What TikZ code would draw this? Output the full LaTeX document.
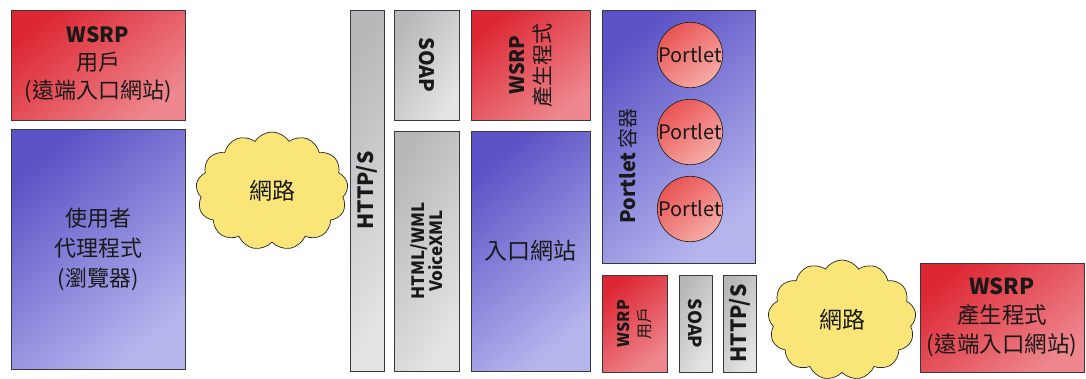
\documentclass[tikz,border=0pt]{standalone}
\usepackage{fontspec}
\setmainfont{Noto Sans CJK TC}
\usetikzlibrary{shapes.symbols}

\definecolor{rojo}{RGB}{221,40,52}
\definecolor{rojoclaro}{RGB}{238,135,142}
\definecolor{azul}{RGB}{92,84,198}
\definecolor{azulclaro}{RGB}{182,182,238}
\definecolor{gris}{RGB}{184,184,186}
\definecolor{grisclaro}{RGB}{228,228,230}
\definecolor{nube}{RGB}{250,229,120}
\definecolor{bolarojo}{RGB}{234,84,84}
\definecolor{bolaclaro}{RGB}{246,172,168}
\definecolor{borde}{RGB}{55,55,60}

\tikzset{
  caja/.style={draw=borde, line width=0.9pt, inner sep=0pt, text=black!90, align=center},
  roja/.style={caja, top color=rojo, bottom color=rojoclaro, shading angle=40},
  azulada/.style={caja, top color=azul, bottom color=azulclaro, shading angle=40},
  grisacea/.style={caja, top color=gris, bottom color=grisclaro, shading angle=60},
  nubes/.style={cloud, cloud puffs=13, cloud puff arc=115, cloud ignores aspect,
    draw=black!85, line width=0.7pt, fill=nube, inner sep=0pt, text=black!90},
  bola/.style={circle, draw=black!85, line width=0.7pt, minimum size=64pt, inner sep=0pt,
    top color=bolarojo, bottom color=bolaclaro, shading angle=40, text=black!90},
  tam/.style 2 args={minimum width=#1pt, minimum height=#2pt},
  texto/.style={align=center, text=black!90, inner sep=0pt},
}

\begin{document}
\begin{tikzpicture}[x=1pt,y=-1pt]

    \useasboundingbox (0,0) rectangle (1086,378);

    % usuario WSRP (portal remoto)
    \node[roja, tam={174}{110}, font=\fontsize{22}{28}\selectfont] (consumidor) at (98,65)
        {{\bfseries\fontsize{21}{21}\selectfont WSRP}\\用戶\\(遠端入口網站)};

    % agente de usuario
    \node[azulada, tam={174}{240}, font=\fontsize{22}{30}\selectfont] (navegador) at (98,249)
        {使用者\\代理程式\\(瀏覽器)};

    % red
    \node[nubes, tam={152}{118}, font=\fontsize{23}{23}\selectfont] (red) at (272,191) {網路};

    % HTTP/S
    \node[grisacea, tam={34}{361}] (http) at (367,190.5) {};
    \node[texto, rotate=90, font=\bfseries\fontsize{21}{21}\selectfont] (httptxt) at (http) {HTTP/S};

    % SOAP
    \node[grisacea, tam={65}{110}] (soap) at (426.5,65) {};
    \node[texto, rotate=-90, font=\bfseries\fontsize{20}{20}\selectfont] (soaptxt) at (soap) {SOAP};

    % HTML/WML
    \node[grisacea, tam={65}{240}] (marcado) at (426.5,251) {};
    \node[texto, rotate=90, font=\bfseries\fontsize{17}{18}\selectfont] (marcadotxt) at (marcado)
        {HTML/WML\\VoiceXML};

    % productor WSRP
    \node[roja, tam={119}{110}] (productor) at (530.5,65) {};
    \node[texto, rotate=90, font=\fontsize{21}{26}\selectfont] (productortxt) at (productor)
        {{\bfseries\fontsize{20}{20}\selectfont WSRP}\\產生程式};

    % portal
    \node[azulada, tam={119}{240}, font=\fontsize{23}{23}\selectfont] (portal) at (530.5,251) {入口網站};

    % contenedor de portlets
    \node[azulada, tam={153}{253}] (contenedor) at (678.5,136.5) {};
    \node[texto, rotate=90] (contenedortxt) at (628,166)
        {{\bfseries\fontsize{20}{20}\selectfont Portlet}\hspace{4pt}{\fontsize{20}{20}\selectfont 容器}};
    \foreach \y/\n in {55/1,132/2,209/3}
        \node[bola, font=\fontsize{20}{20}\selectfont] (portlet\n) at (690,\y) {Portlet};

    % usuario WSRP, abajo
    \node[roja, tam={65}{97}] (consumidorb) at (634.5,323.5) {};
    \node[texto, rotate=90, font=\fontsize{16}{21}\selectfont] (consumidorbtxt) at (consumidorb)
        {{\bfseries WSRP}\\用戶};

    % SOAP y HTTP/S, abajo
    \node[grisacea, tam={33}{97}] (soapb) at (695.5,323.5) {};
    \node[texto, rotate=-90, font=\bfseries\fontsize{18}{18}\selectfont] (soapbtxt) at (soapb) {SOAP};
    \node[grisacea, tam={33}{97}] (httpb) at (739.5,323.5) {};
    \node[texto, rotate=90, font=\bfseries\fontsize{21}{21}\selectfont] (httpbtxt) at (httpb) {HTTP/S};

    % red, abajo
    \node[nubes, tam={148}{120}, font=\fontsize{23}{23}\selectfont] (redb) at (842,320) {網路};

    % productor WSRP (portal remoto)
    \node[roja, tam={164}{109}, font=\fontsize{22.5}{29}\selectfont] (productorb) at (1002,317.5)
        {{\bfseries\fontsize{22}{22}\selectfont WSRP}\\產生程式\\(遠端入口網站)};

\end{tikzpicture}
\end{document}
